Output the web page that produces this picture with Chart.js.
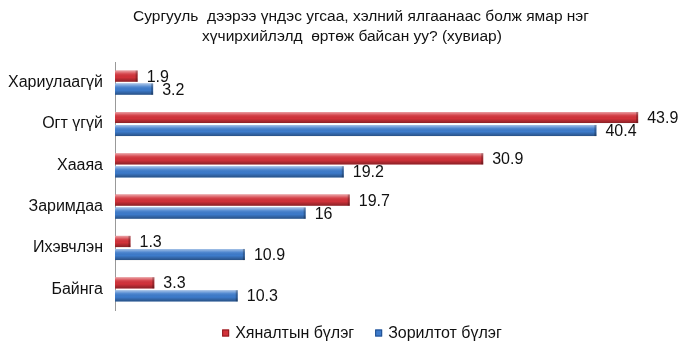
<!DOCTYPE html>
<html>
<head>
<meta charset="utf-8">
<script src="https://cdn.jsdelivr.net/npm/chart.js@4/dist/chart.umd.min.js"></script>
<style>
html,body{margin:0;padding:0;background:#fff;}
#wrap{width:700px;height:356px;}
</style>
</head>
<body>
<div id="wrap"><canvas id="c"></canvas></div>
<script>
const categories = ["Хариулаагүй", "Огт үгүй", "Хааяа", "Заримдаа", "Ихэвчлэн", "Байнга"];
const controlGroup = [1.9, 43.9, 30.9, 19.7, 1.3, 3.3];
const targetGroup = [3.2, 40.4, 19.2, 16, 10.9, 10.3];
const seriesNames = ["Хяналтын бүлэг", "Зорилтот бүлэг"];
const titleLines = ["Сургууль  дээрээ үндэс угсаа, хэлний ялгаанаас болж ямар нэг", "хүчирхийлэлд  өртөж байсан уу? (хувиар)"];

const FONT = "'Liberation Sans', Arial, sans-serif";
const RED = '#d2323a', RED_DARK = '#8e1a20';
const BLUE = '#3d7bcb', BLUE_DARK = '#214f8e';

const customTitle = {
  id: 'customTitle',
  afterDraw(chart) {
    const ctx = chart.ctx;
    ctx.save();
    ctx.font = "15.5px " + FONT;
    ctx.fillStyle = '#111';
    ctx.textAlign = 'center';
    ctx.textBaseline = 'middle';
    ctx.fillText(titleLines[0], 361, 17);
    ctx.fillText(titleLines[1], 352, 37);
    ctx.restore();
  }
};

const barShade = {
  id: 'barShade',
  afterDatasetsDraw(chart) {
    const ctx = chart.ctx;
    ctx.save();
    chart.data.datasets.forEach((ds, i) => {
      const meta = chart.getDatasetMeta(i);
      meta.data.forEach((bar) => {
        const top = bar.y - bar.height / 2, h = bar.height;
        const left = bar.base, w = bar.x - bar.base;
        const g = ctx.createLinearGradient(0, top, 0, top + h);
        g.addColorStop(0, 'rgba(255,255,255,0.55)');
        g.addColorStop(0.3, 'rgba(255,255,255,0.1)');
        g.addColorStop(0.6, 'rgba(0,0,0,0)');
        g.addColorStop(1, 'rgba(0,0,0,0.35)');
        ctx.fillStyle = g;
        ctx.fillRect(left, top, w, h);
        ctx.fillStyle = 'rgba(0,0,0,0.25)';
        ctx.fillRect(bar.x - 2, top, 2, h);
      });
    });
    ctx.restore();
  }
};

const valueLabels = {
  id: 'valueLabels',
  afterDatasetsDraw(chart) {
    const ctx = chart.ctx;
    ctx.save();
    ctx.font = "16px " + FONT;
    ctx.fillStyle = "#111";
    ctx.textBaseline = "middle";
    ctx.textAlign = "left";
    chart.data.datasets.forEach((ds, i) => {
      const meta = chart.getDatasetMeta(i);
      meta.data.forEach((bar, j) => {
        ctx.fillText(String(ds.data[j]), bar.x + 9, bar.y + 1);
      });
    });
    ctx.restore();
  }
};

const customLegend = {
  id: 'customLegend',
  afterDraw(chart) {
    const ctx = chart.ctx;
    ctx.save();
    ctx.font = "16px " + FONT;
    ctx.textBaseline = "middle";
    const cols = [RED, BLUE], borders = [RED_DARK, BLUE_DARK];
    const box = 7, gapText = 6, gapItem = 21;
    const widths = seriesNames.map(t => box + gapText + ctx.measureText(t).width);
    const total = widths.reduce((a, b) => a + b, 0) + gapItem;
    let x = 350 - total / 2 + 12;
    const y = 333;
    seriesNames.forEach((t, i) => {
      ctx.fillStyle = cols[i];
      ctx.fillRect(x, y - box / 2, box, box);
      ctx.strokeStyle = borders[i];
      ctx.lineWidth = 1;
      ctx.strokeRect(x + 0.5, y - box / 2 + 0.5, box - 1, box - 1);
      ctx.fillStyle = '#111';
      ctx.fillText(t, x + box + gapText, y + 1);
      x += widths[i] + gapItem;
    });
    ctx.restore();
  }
};

new Chart(document.getElementById('c'), {
  type: 'bar',
  data: {
    labels: categories,
    datasets: [
      {
        label: seriesNames[0],
        data: controlGroup,
        backgroundColor: RED,
        borderWidth: 0,
        barPercentage: 0.86,
        categoryPercentage: 0.63
      },
      {
        label: seriesNames[1],
        data: targetGroup,
        backgroundColor: BLUE,
        borderWidth: 0,
        barPercentage: 0.86,
        categoryPercentage: 0.63
      }
    ]
  },
  options: {
    indexAxis: 'y',
    responsive: true,
    maintainAspectRatio: false,
    animation: false,
    layout: { padding: { left: 7, right: 13, top: 62, bottom: 46 } },
    plugins: {
      title: { display: false },
      legend: { display: false },
      tooltip: { enabled: false }
    },
    scales: {
      x: {
        display: false,
        min: 0,
        max: 48
      },
      y: {
        afterFit(scale) { scale.width = 108; },
        grid: { display: false, drawTicks: false },
        border: { display: true, color: '#999', width: 1 },
        ticks: {
          color: '#111',
          font: { family: FONT, size: 16 },
          padding: 12
        }
      }
    }
  },
  plugins: [barShade, valueLabels, customTitle, customLegend]
});
</script>
</body>
</html>
